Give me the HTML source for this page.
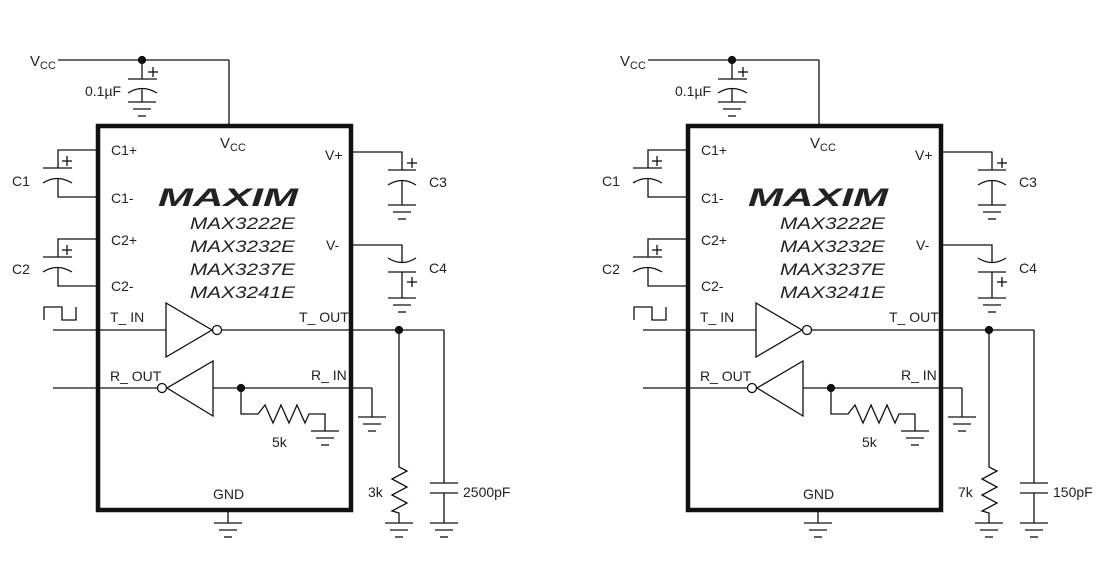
<!DOCTYPE html>
<html><head><meta charset="utf-8"><style>
html,body{margin:0;padding:0;background:#fff;}
svg text{font-family:"Liberation Sans",sans-serif;fill:#222;}
</style></head><body>
<svg width="1101" height="570" viewBox="0 0 1101 570" xmlns="http://www.w3.org/2000/svg">
<defs>
<g id="gnd" stroke="#111" stroke-width="1.3">
  <line x1="-14" y1="0" x2="14" y2="0"/>
  <line x1="-9" y1="7" x2="9" y2="7"/>
  <line x1="-4" y1="14" x2="4" y2="14"/>
</g>
<g id="circ" fill="none" stroke="#111" stroke-width="1.3">
  <!-- VCC top -->
  <line x1="58" y1="60" x2="229" y2="60"/>
  <line x1="229" y1="60" x2="229" y2="124"/>
  <line x1="142" y1="60" x2="142" y2="79"/>
  <line x1="128" y1="79" x2="157" y2="79"/>
  <path d="M128,93 Q142,84 157,93"/>
  <line x1="142" y1="88" x2="142" y2="102"/>
  <use href="#gnd" x="142" y="102"/>
  <line x1="148" y1="72" x2="158" y2="72"/><line x1="153" y1="67" x2="153" y2="77"/>
  <!-- C1 -->
  <polyline points="96,150 58,150 58,168"/>
  <line x1="43" y1="168" x2="72" y2="168"/>
  <path d="M43,183 Q57,174 72,183"/>
  <polyline points="58,178 58,197 96,197"/>
  <line x1="62" y1="161" x2="72" y2="161"/><line x1="67" y1="156" x2="67" y2="166"/>
  <!-- C2 -->
  <polyline points="96,239 58,239 58,257"/>
  <line x1="43" y1="257" x2="72" y2="257"/>
  <path d="M43,272 Q57,263 72,272"/>
  <polyline points="58,267 58,286 96,286"/>
  <line x1="62" y1="250" x2="72" y2="250"/><line x1="67" y1="245" x2="67" y2="255"/>
  <!-- C3 -->
  <polyline points="353,152 402,152 402,170"/>
  <line x1="388" y1="170" x2="416" y2="170"/>
  <path d="M388,185 Q402,176 416,185"/>
  <line x1="402" y1="180" x2="402" y2="205"/>
  <use href="#gnd" x="402" y="205"/>
  <line x1="407" y1="163" x2="417" y2="163"/><line x1="412" y1="158" x2="412" y2="168"/>
  <!-- C4 -->
  <polyline points="353,245 402,245 402,263"/>
  <path d="M388,258 Q402,267 416,258"/>
  <line x1="388" y1="272" x2="416" y2="272"/>
  <line x1="402" y1="272" x2="402" y2="298"/>
  <use href="#gnd" x="402" y="298"/>
  <line x1="407" y1="282" x2="417" y2="282"/><line x1="412" y1="277" x2="412" y2="287"/>
  <!-- square wave -->
  <polyline points="44,320 44,307 62,307 62,320 76,320 76,307"/>
  <!-- T_IN / driver -->
  <line x1="53" y1="330" x2="166" y2="330"/>
  <polygon points="166,303 166,357 212,330"/>
  <circle cx="217" cy="330" r="4.5" fill="#fff"/>
  <line x1="222" y1="330" x2="444" y2="330"/>
  <line x1="444" y1="330" x2="444" y2="483"/>
  <line x1="430" y1="483" x2="458" y2="483"/>
  <line x1="430" y1="493" x2="458" y2="493"/>
  <line x1="444" y1="493" x2="444" y2="523"/>
  <use href="#gnd" x="444" y="523"/>
  <!-- load resistor -->
  <polyline points="399,330 399,467 407,471 392,479 407,487 392,495 407,503 392,511 399,513 399,523"/>
  <use href="#gnd" x="399" y="523"/>
  <!-- R_OUT receiver -->
  <line x1="53" y1="388" x2="157" y2="388"/>
  <circle cx="162" cy="388" r="4.5" fill="#fff"/>
  <polygon points="213,361 213,416 167,388"/>
  <line x1="213" y1="388" x2="372" y2="388"/>
  <line x1="372" y1="388" x2="372" y2="417"/>
  <use href="#gnd" x="372" y="417"/>
  <polyline points="241,388 241,414 258,414 265,405 273,423 281,405 289,423 297,405 305,423 309,414 325,414 325,431"/>
  <use href="#gnd" x="325" y="431"/>
  <!-- GND -->
  <line x1="228" y1="512" x2="228" y2="523"/>
  <use href="#gnd" x="228" y="523"/>
  <!-- box -->
  <rect x="98" y="126" width="253" height="384" stroke-width="4.5"/>
  <!-- dots -->
  <circle cx="142" cy="60" r="3.5" fill="#111"/>
  <circle cx="399" cy="330" r="3.5" fill="#111"/>
  <circle cx="241" cy="388" r="3.5" fill="#111"/>
</g>
<g id="lbl" font-size="14">
  <text x="30" y="66" font-size="15">V<tspan font-size="11" dy="3">CC</tspan></text>
  <text x="85" y="96">0.1µF</text>
  <text x="220" y="148" font-size="15">V<tspan font-size="11" dy="3">CC</tspan></text>
  <text x="111" y="155">C1+</text>
  <text x="111" y="203">C1-</text>
  <text x="111" y="245">C2+</text>
  <text x="111" y="291">C2-</text>
  <text x="12" y="186">C1</text>
  <text x="12" y="274">C2</text>
  <text x="325" y="160">V+</text>
  <text x="326" y="250">V-</text>
  <text x="429" y="187">C3</text>
  <text x="429" y="273">C4</text>
  <text x="158" y="206" font-size="25" font-weight="bold" font-style="italic" textLength="140" lengthAdjust="spacingAndGlyphs">MAXIM</text>
  <g font-style="italic" font-size="17">
    <text x="190" y="229" textLength="105" lengthAdjust="spacingAndGlyphs">MAX3222E</text>
    <text x="190" y="252" textLength="105" lengthAdjust="spacingAndGlyphs">MAX3232E</text>
    <text x="190" y="275" textLength="105" lengthAdjust="spacingAndGlyphs">MAX3237E</text>
    <text x="190" y="298" textLength="105" lengthAdjust="spacingAndGlyphs">MAX3241E</text>
  </g>
  <text x="110" y="322">T_ IN</text>
  <text x="299" y="322">T_ OUT</text>
  <text x="110" y="381">R_ OUT</text>
  <text x="311" y="380">R_ IN</text>
  <text x="272" y="447">5k</text>
  <text x="213" y="499">GND</text>
</g>
</defs>
<use href="#circ"/>
<use href="#lbl"/>
<text x="368" y="497" font-size="14">3k</text>
<text x="463" y="497" font-size="14">2500pF</text>
<g transform="translate(590,0)">
  <use href="#circ"/>
  <use href="#lbl"/>
  <text x="368" y="497" font-size="14">7k</text>
  <text x="463" y="497" font-size="14">150pF</text>
</g>
</svg>
</body></html>
